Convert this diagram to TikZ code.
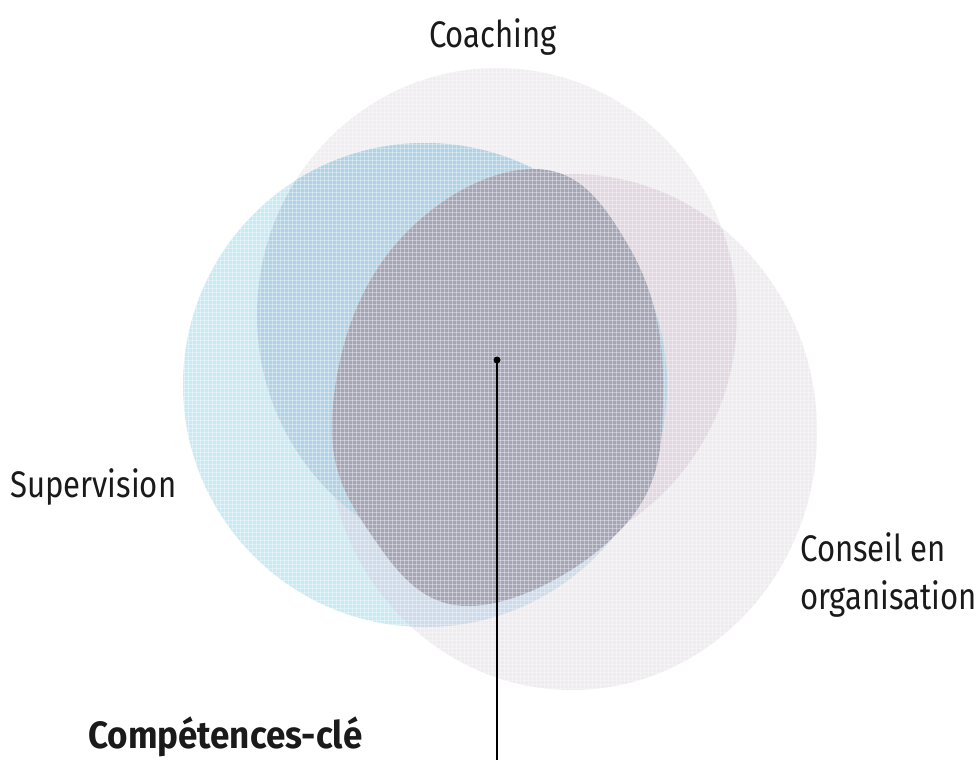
\documentclass[tikz,border=0pt]{standalone}
\usepackage{fontspec}
\setmainfont{Fira Sans}[FakeStretch=0.84, BoldFeatures={FakeStretch=0.92}]
\definecolor{coachC}{HTML}{F0EEF0}
\definecolor{consC}{HTML}{EFECEF}
\definecolor{coachcons}{HTML}{E2D7E1}
\definecolor{supC}{HTML}{C9EAF3}
\definecolor{supcoach}{HTML}{B0D2E5}
\definecolor{supcons}{HTML}{CCDAEA}
\definecolor{greyC}{HTML}{A5A5B7}
\definecolor{txt}{HTML}{1A1A1A}
\tikzset{
  lbl/.style={font=\fontsize{37}{48}\selectfont, text=txt, inner sep=0pt},
  boldlbl/.style={font=\fontsize{38}{48}\selectfont\bfseries, text=txt, inner sep=0pt},
  dotnode/.style={circle, fill=black, inner sep=0pt, minimum size=7pt},
  leader/.style={draw=black, line width=1.5pt},
  screen/.style={draw=white, line width=1pt, opacity=0.35}
}
\begin{document}
\begin{tikzpicture}[x=1pt,y=-1pt]
\useasboundingbox (0,0) rectangle (979,760);
\fill[white] (0,0) rectangle (979,760);
% Coaching
\fill[coachC] (497,315) ellipse (240pt and 247pt);
% Conseil
\fill[consC] (572,432) ellipse (245pt and 258pt);
\begin{scope}
  \clip (572,432) ellipse (245pt and 258pt);
  \fill[coachcons] (497,315) ellipse (240pt and 247pt);
\end{scope}
% Supervision
\fill[supC] (425,385) circle (242pt);
\begin{scope}
  \clip (425,385) circle (242pt);
  \fill[supcons] (572,432) ellipse (245pt and 258pt);
  \fill[supcoach] (497,315) ellipse (240pt and 247pt);
\end{scope}
% central
\fill[greyC] plot[smooth cycle, tension=0.7] coordinates {(534,169) (628,245) (663,388) (625,525) (470,606) (368,530) (333,405) (395,245)};
% halftone screen
\begin{scope}
  \clip (180,60) rectangle (830,700);
  \foreach \k in {180,184,...,830} { \draw[screen] (\k,60) -- (\k,700); }
  \foreach \k in {60,64,...,700} { \draw[screen] (180,\k) -- (830,\k); }
\end{scope}
% labels
\node[lbl, anchor=base] (coach) at (493,48) {Coaching};
\node[lbl, anchor=base west] (sup) at (10,497) {Supervision};
\node[lbl, anchor=north west, align=left] (cons) at (800,532) {Conseil en\\organisation};
\node[boldlbl, anchor=base west] (comp) at (88,748) {Compétences-clé};
\node[dotnode] (dot) at (497,360) {};
\coordinate (bot) at (497,760);
\draw[leader] (dot.center) -- (bot);
\end{tikzpicture}
\end{document}
